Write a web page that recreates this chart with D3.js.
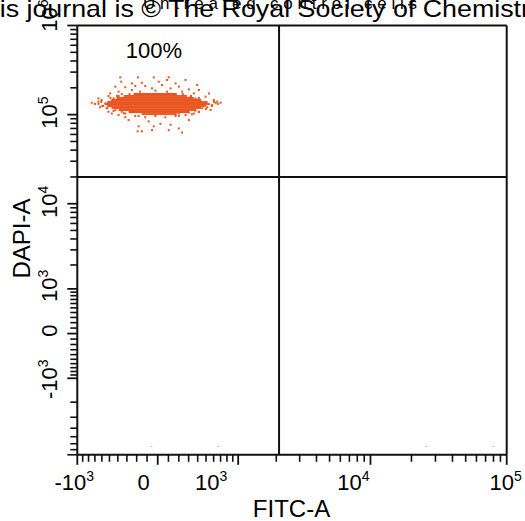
<!DOCTYPE html>
<html>
<head>
<meta charset="utf-8">
<script src="https://cdn.jsdelivr.net/npm/d3@7"></script>
<style>
body { margin: 0; background: #fff; }
text { font-family: "Liberation Sans", Arial, sans-serif; fill: #000; }
</style>
</head>
<body>
<script>
//tick values and labels (logicle-like axes)
var xTickVals = [-1000, 0, 1000, 10000, 100000];
var xTickBase = ["-10", "0", "10", "10", "10"];
var xTickSup = ["3", "", "3", "4", "5"];
var yTickVals = [-1000, 0, 1000, 10000, 100000, 1000000];
var yTickBase = ["-10", "0", "10", "10", "10", "10"];
var yTickSup = ["3", "", "3", "4", "5", "6"];

//quadrant gate and label
var xGate = 2100,
    yGate = 20000;
var quadLabel = "100%";

//dense core of the population: [dapiHigh, dapiLow, fitcLow, fitcHigh]
var coreRows = [
    [175000, 166000, -231, 180],
    [166000, 158000, -335, 282],
    [158000, 150000, -414, 357],
    [150000, 142000, -475, 440],
    [142000, 135000, -530, 520],
    [135000, 128000, -560, 550],
    [128000, 122000, -530, 500],
    [122000, 116000, -475, 440],
    [116000, 110000, -391, 380],
    [110000, 104000, -282, 303],
    [104000, 99000, -152, 180]
];

//scattered events around the core (FITC-A, DAPI-A)
var fitc = [-372, -188, -37, 103, -361, -248, -149, 9, 87, 168, 268, 395, -429, -317, -214, -117, -53, 40, 120, 200,
    303, 233, 414, 537, -491, -391, -248, -166, -21, 87, 357, -513, 495, 603, -648,
    -749, -698, -648, -604, -581, -626, -536, -513,
    627, 700, 580, 516, 560, 650,
    -471, -391, -317, -214, -117, -21, 71, 168, 268, 357, -85, 25, 120, -181, -37, 200, -191, -149, -53, 103, 233,
    -282, 303, 414, -355,
    -450, -410, -355, 321, 376, 434, 495, 455, 376, 303, -429, -491, -554, -471, -317, 200,
    -272, 240, -391, 325, -488, 414, -608, 603, -648, 660, -594, 576, -527, 500, -450, 414, -335, 335, -181, 200];
var dapi = [262000, 262000, 262000, 262000, 234000, 224000, 228000, 234000, 245000, 224000, 245000, 215000, 206000, 203000, 210000, 210000, 197000, 215000, 197000, 206000,
    192000, 181000, 189000, 173000, 173000, 181000, 189000, 181000, 186000, 181000, 173000, 162000, 159000, 146000, 152000,
    136000, 132000, 140000, 146000, 125000, 121000, 118000, 108000,
    136000, 136000, 128000, 121000, 113000, 140000,
    103000, 99000, 93500, 96500, 93500, 96500, 93500, 96500, 99000, 103000, 84000, 79000, 77000, 74000, 74000, 70000, 65000, 65000, 67000, 67000, 63000,
    87000, 87000, 108000, 108000,
    152000, 162000, 170000, 159000, 152000, 140000, 132000, 118000, 111000, 106000, 113000, 125000, 134000, 143000, 103000, 103000,
    170000, 170000, 162000, 162000, 154000, 154000, 139000, 139000, 132000, 132000, 125000, 125000, 119000, 116000, 110000, 107000, 104000, 101000, 96500, 96500];

//faint events near the bottom of the plot
var faintFitc = [-59, 665, 25700, 79700];
var faintDapi = [-6360, -6360, -6360, -6360];

var width = 525,
    height = 521;

var svg = d3.select("body")
    .append("svg")
    .attr("width", width)
    .attr("height", height);

//arcsinh transform on top of a linear scale
function asinhScale(w, domain, range){
    var lin = d3.scaleLinear()
        .domain(domain.map(function(v){ return Math.asinh(v / w); }))
        .range(range);
    return function(v){ return lin(Math.asinh(v / w)); };
}

var pLeft = 77.3, pRight = 506.7, pTop = 25.5, pBottom = 454.8;
var x = asinhScale(550, [-1000, 100000], [pLeft, pRight]);
var y = asinhScale(700, [-8000, 1000000], [pBottom, pTop]);

//minor ticks
function minorTicks(lo, hi){
    var t = [];
    for (var v = -900; v <= 900; v += 100) if (v != 0) t.push(v);
    for (var k = 3; k <= 5; k++){
        for (var m = 2; m <= 9; m++){
            t.push(m * Math.pow(10, k));
            t.push(-m * Math.pow(10, k));
        }
    }
    return t.filter(function(v){ return v >= lo && v <= hi; });
}

var markColor = "#e9541f";

//core blob
svg.selectAll(".core")
    .data(coreRows)
    .enter()
    .append("rect")
    .attr("class", "core")
    .attr("x", function(d){ return x(d[2]); })
    .attr("y", function(d){ return y(d[0]); })
    .attr("width", function(d){ return x(d[3]) - x(d[2]); })
    .attr("height", function(d){ return y(d[1]) - y(d[0]); })
    .attr("fill", markColor);

//scattered events
svg.selectAll(".ev")
    .data(d3.range(fitc.length))
    .enter()
    .append("rect")
    .attr("class", "ev")
    .attr("x", function(i){ return x(fitc[i]) - 1; })
    .attr("y", function(i){ return y(dapi[i]) - 1; })
    .attr("width", 2)
    .attr("height", 2)
    .attr("fill", markColor);

svg.selectAll(".faint")
    .data(d3.range(faintFitc.length))
    .enter()
    .append("rect")
    .attr("x", function(i){ return x(faintFitc[i]) - 1; })
    .attr("y", function(i){ return y(faintDapi[i]); })
    .attr("width", 2)
    .attr("height", 1)
    .attr("fill", "#bbb");

//frame and quadrant lines
var ink = "#111";
svg.append("line").attr("x1", pLeft).attr("x2", pRight).attr("y1", pTop).attr("y2", pTop)
    .attr("stroke", ink).attr("stroke-width", 2);
svg.append("line").attr("x1", pRight).attr("x2", pRight).attr("y1", pTop).attr("y2", pBottom)
    .attr("stroke", ink).attr("stroke-width", 2);
svg.append("line").attr("x1", x(xGate)).attr("x2", x(xGate)).attr("y1", pTop).attr("y2", pBottom)
    .attr("stroke", ink).attr("stroke-width", 2);
svg.append("line").attr("x1", pLeft).attr("x2", pRight).attr("y1", y(yGate)).attr("y2", y(yGate))
    .attr("stroke", ink).attr("stroke-width", 2);

//axes lines
svg.append("line").attr("x1", pLeft).attr("x2", pLeft).attr("y1", pTop).attr("y2", pBottom)
    .attr("stroke", ink).attr("stroke-width", 2);
svg.append("line").attr("x1", pLeft).attr("x2", pRight).attr("y1", pBottom).attr("y2", pBottom)
    .attr("stroke", ink).attr("stroke-width", 2);

//x ticks
var xMinor = minorTicks(-1000, 100000);
svg.selectAll(".xminor").data(xMinor).enter().append("line")
    .attr("x1", function(d){ return x(d); }).attr("x2", function(d){ return x(d); })
    .attr("y1", pBottom).attr("y2", pBottom + 7)
    .attr("stroke", ink).attr("stroke-width", 1.6);
svg.selectAll(".xmajor").data(xTickVals).enter().append("line")
    .attr("x1", function(d){ return x(d); }).attr("x2", function(d){ return x(d); })
    .attr("y1", pBottom).attr("y2", pBottom + 10)
    .attr("stroke", ink).attr("stroke-width", 1.8);

//y ticks
var yMinor = minorTicks(-8000, 1000000);
svg.selectAll(".yminor").data(yMinor).enter().append("line")
    .attr("y1", function(d){ return y(d); }).attr("y2", function(d){ return y(d); })
    .attr("x1", pLeft).attr("x2", function(d){ return d == -8000 ? pLeft - 10 : pLeft - 7; })
    .attr("stroke", ink).attr("stroke-width", 1.6);
svg.selectAll(".ymajor").data(yTickVals).enter().append("line")
    .attr("y1", function(d){ return y(d); }).attr("y2", function(d){ return y(d); })
    .attr("x1", pLeft).attr("x2", pLeft - 10)
    .attr("stroke", ink).attr("stroke-width", 1.8);

//tick labels (offsets follow the original figure)
var xLabelDx = [-3, -14, -27, -17, -1];
var xl = svg.selectAll(".xlab").data(xTickVals).enter().append("text")
    .attr("x", function(d, i){ return x(d) + xLabelDx[i]; })
    .attr("y", 490)
    .attr("text-anchor", "middle")
    .style("font-size", "22px");
xl.append("tspan").text(function(d, i){ return xTickBase[i]; });
xl.append("tspan").attr("dy", -9).style("font-size", "14px").text(function(d, i){ return xTickSup[i]; });

var yLabelDy = [1, -3, -3, -2, -2, -10];
var yl = svg.selectAll(".ylab").data(yTickVals).enter().append("text")
    .attr("transform", function(d, i){ return "translate(57," + (y(d) + yLabelDy[i]) + ") rotate(-90)"; })
    .attr("text-anchor", "middle")
    .style("font-size", "22px");
yl.append("tspan").text(function(d, i){ return yTickBase[i]; });
yl.append("tspan").attr("dy", -9).style("font-size", "14px").text(function(d, i){ return yTickSup[i]; });

//axis titles
svg.append("text").attr("x", 291.5).attr("y", 517).attr("text-anchor", "middle")
    .style("font-size", "24px").text("FITC-A");
svg.append("text").attr("transform", "translate(30,238.5) rotate(-90)").attr("text-anchor", "middle")
    .style("font-size", "24px").text("DAPI-A");

//quadrant percentage
svg.append("text").attr("x", 154).attr("y", 58).attr("text-anchor", "middle")
    .style("font-size", "22px").text(quadLabel);

//page watermark and overlapping caption at the top
svg.append("text").attr("x", -31.6).attr("y", 17)
    .attr("textLength", 575).attr("lengthAdjust", "spacingAndGlyphs")
    .style("font-size", "24px").text("This journal is \u00a9 The Royal Society of Chemistry");
svg.append("text").attr("x", 143).attr("y", 9)
    .attr("textLength", 274).attr("lengthAdjust", "spacing")
    .style("font-size", "17px").text("Untreated control cells");
</script>
</body>
</html>
